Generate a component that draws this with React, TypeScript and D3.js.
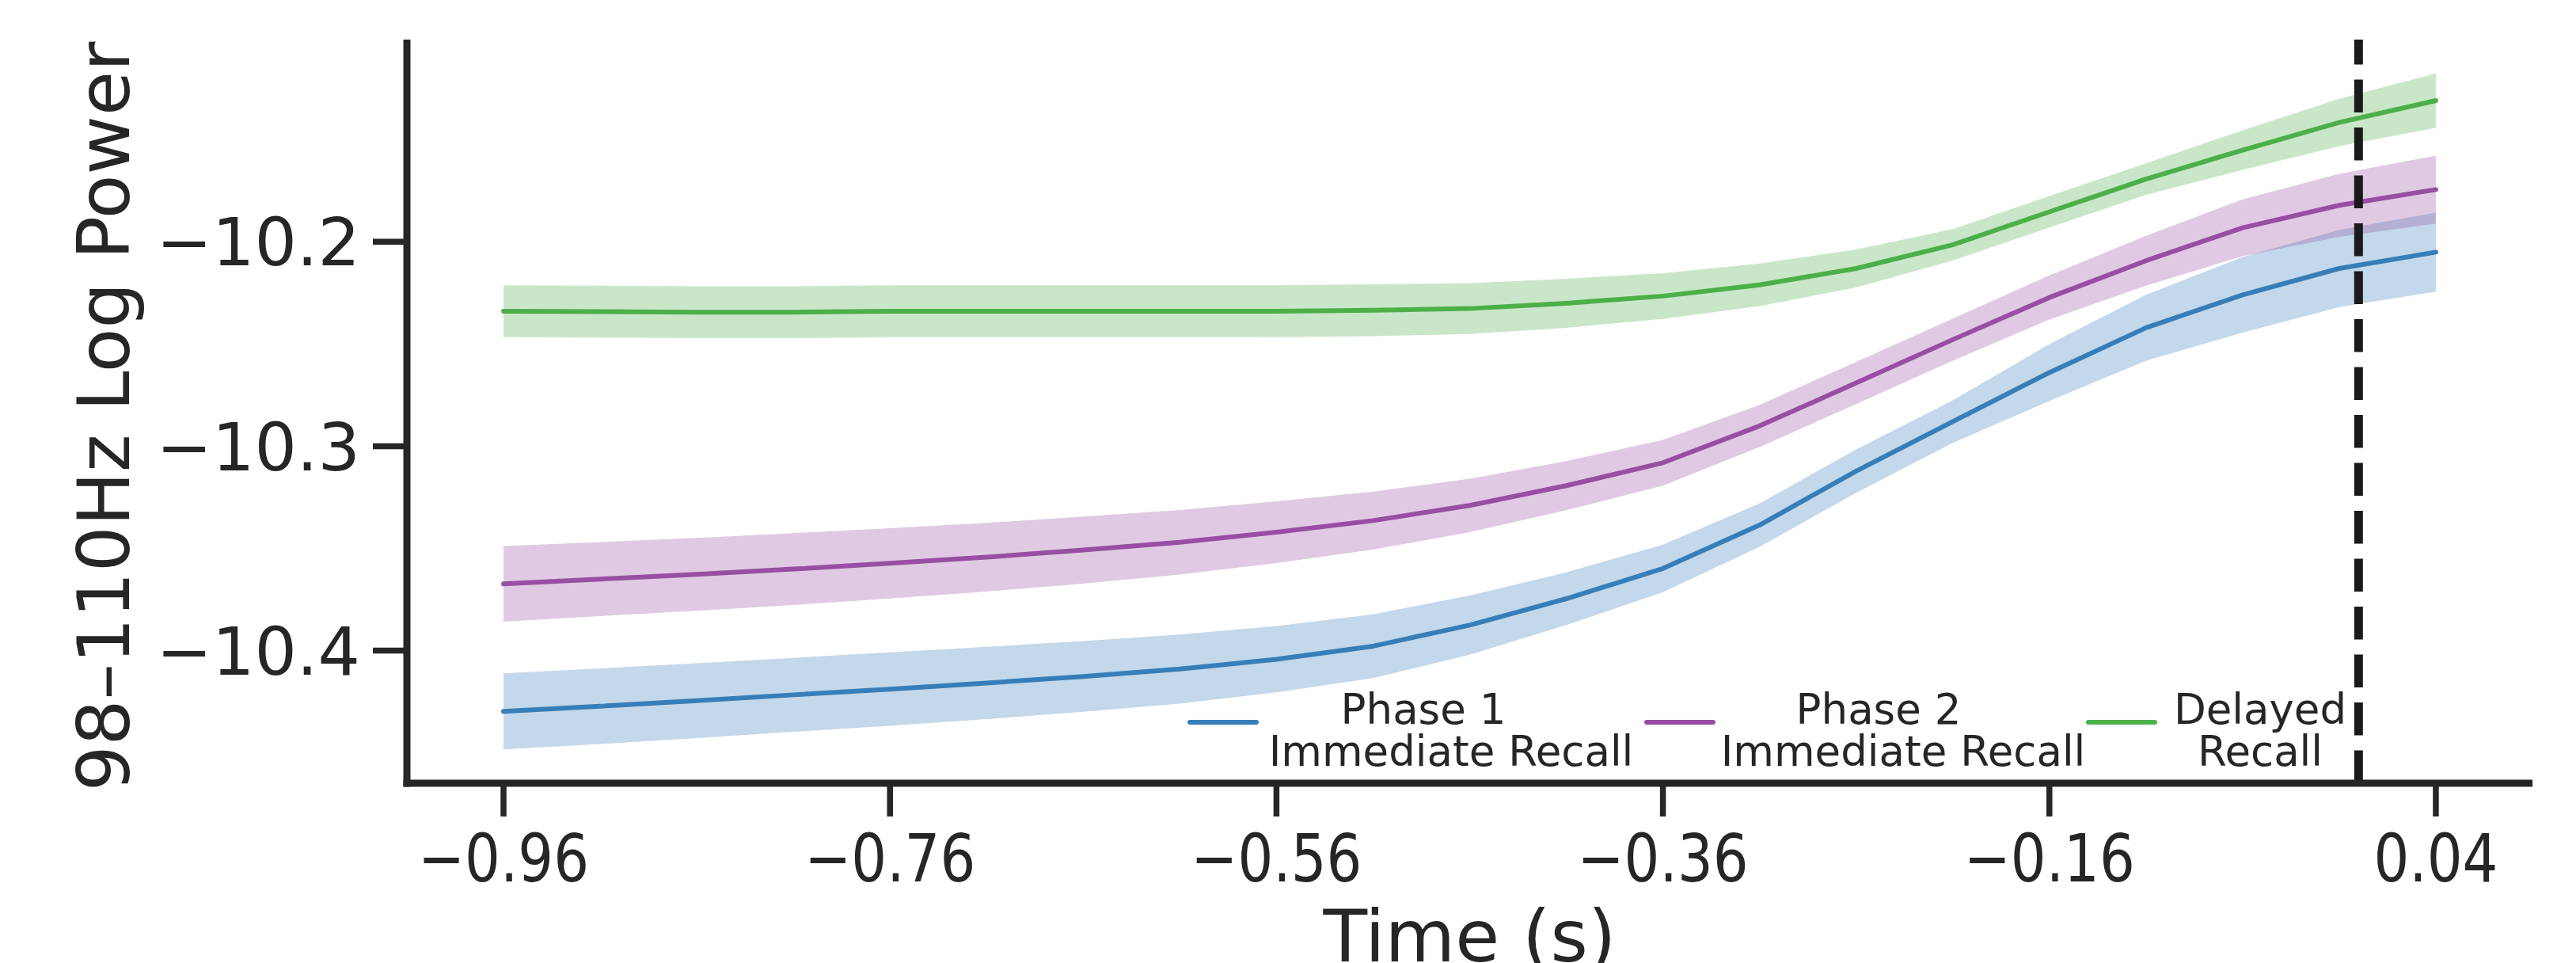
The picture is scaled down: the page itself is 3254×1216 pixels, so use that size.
import * as d3 from "d3";

// time points (s)
const times = [
  -0.96, -0.91, -0.86, -0.81, -0.76, -0.71, -0.66, -0.61, -0.56, -0.51, -0.46,
  -0.41, -0.36, -0.31, -0.26, -0.21, -0.16, -0.11, -0.06, -0.01, 0.04,
];

// Phase 1 immediate recall
const phase1Mean = [
  -10.4297, -10.4272, -10.4245, -10.4216, -10.4188, -10.4158, -10.4126, -10.409,
  -10.4042, -10.3978, -10.3875, -10.3746, -10.3598, -10.3386, -10.3122, -10.288,
  -10.264, -10.2421, -10.226, -10.2131, -10.2051,
];
const phase1Sem = [
  0.0186, 0.0185, 0.0183, 0.0181, 0.018, 0.0177, 0.0173, 0.0169, 0.0162, 0.0156,
  0.0145, 0.0129, 0.0116, 0.0106, 0.0106, 0.0104, 0.0139, 0.0161, 0.0185, 0.0189,
  0.0193,
];

// Phase 2 immediate recall
const phase2Mean = [
  -10.3673, -10.365, -10.3627, -10.3601, -10.3573, -10.3543, -10.3508, -10.347,
  -10.3421, -10.3364, -10.329, -10.3193, -10.3081, -10.2901, -10.2691, -10.2479,
  -10.2273, -10.2093, -10.1932, -10.1822, -10.1745,
];
const phase2Sem = [
  0.0185, 0.0181, 0.0178, 0.0176, 0.0172, 0.0168, 0.0164, 0.0158, 0.0151, 0.0142,
  0.0131, 0.012, 0.0112, 0.0103, 0.0103, 0.0103, 0.0108, 0.0122, 0.0139, 0.0154,
  0.0166,
];

// Delayed recall
const delayedMean = [
  -10.234, -10.2342, -10.2345, -10.2345, -10.234, -10.234, -10.234, -10.234,
  -10.234, -10.2335, -10.2327, -10.2301, -10.2266, -10.2211, -10.2131, -10.2015,
  -10.1854, -10.1694, -10.1552, -10.1417, -10.131,
];
const delayedSem = [
  0.0127, 0.0127, 0.0127, 0.0127, 0.0127, 0.0127, 0.0127, 0.0127, 0.0127, 0.0127,
  0.0124, 0.012, 0.0112, 0.0104, 0.0093, 0.0077, 0.0077, 0.0077, 0.0097, 0.0116,
  0.0133,
];

const xTicks = [-0.96, -0.76, -0.56, -0.36, -0.16, 0.04];
const yTicks = [-10.2, -10.3, -10.4];
const onsetTime = 0;

const series = [
  { mean: phase1Mean, sem: phase1Sem, color: "#377eb8", lines: ["Phase 1", "Immediate Recall"] },
  { mean: phase2Mean, sem: phase2Sem, color: "#984ea3", lines: ["Phase 2", "Immediate Recall"] },
  { mean: delayedMean, sem: delayedSem, color: "#4daf4a", lines: ["Delayed", "Recall"] },
];

const W = 3254;
const H = 1216;
const left = 514,
  right = 3199,
  top = 50,
  bottom = 989;
const ink = "#262626";
const font = "'DejaVu Sans', sans-serif";

// matplotlib-like 5% margins
function padded([lo, hi]: [number, number]): [number, number] {
  const m = (hi - lo) * 0.05;
  return [lo - m, hi + m];
}

const fmt = (v: number) => d3.format(".2f")(v).replace("-", "\u2212");
const fmtY = (v: number) => d3.format(".1f")(v).replace("-", "\u2212");

// legend layout (pixels)
const legendHandleX = [1503, 2080, 2638];
const legendCenters = [
  [1798, 1833],
  [2373, 2404],
  [2855, 2855],
];

export default function App() {
  const x = d3
    .scaleLinear()
    .domain(padded(d3.extent(times) as [number, number]))
    .range([left, right]);

  const lows = series.flatMap((s) => s.mean.map((m, i) => m - s.sem[i]));
  const highs = series.flatMap((s) => s.mean.map((m, i) => m + s.sem[i]));
  const y = d3
    .scaleLinear()
    .domain(padded([d3.min(lows)!, d3.max(highs)!]))
    .range([bottom, top]);

  return (
    <svg
      width={W}
      height={H}
      style={{ position: "absolute", left: 0, top: 0, background: "#fff" }}
      fontFamily={font}
    >
      {/* bands */}
      {series.map((s, k) => {
        const band = d3
          .area<number>()
          .x((_, i) => x(times[i]))
          .y0((m, i) => y(m - s.sem[i]))
          .y1((m, i) => y(m + s.sem[i]));
        return <path key={"b" + k} d={band(s.mean)!} fill={s.color} fillOpacity={0.3} />;
      })}
      {/* mean lines */}
      {series.map((s, k) => {
        const line = d3
          .line<number>()
          .x((_, i) => x(times[i]))
          .y((m) => y(m));
        return (
          <path
            key={"l" + k}
            d={line(s.mean)!}
            fill="none"
            stroke={s.color}
            strokeWidth={6}
            strokeLinecap="round"
            strokeLinejoin="round"
          />
        );
      })}

      {/* onset line */}
      <line
        x1={x(onsetTime)}
        x2={x(onsetTime)}
        y1={bottom}
        y2={top}
        stroke="#1a1a1a"
        strokeWidth={11}
        strokeDasharray="41.5 19"
      />

      {/* spines */}
      <line x1={left} x2={left} y1={top} y2={bottom + 4.5} stroke={ink} strokeWidth={9} />
      <line x1={left - 4.5} x2={right} y1={bottom} y2={bottom} stroke={ink} strokeWidth={9} />

      {/* y ticks */}
      {yTicks.map((t) => (
        <g key={"y" + t}>
          <line x1={left - 43} x2={left} y1={y(t)} y2={y(t)} stroke={ink} strokeWidth={7.5} />
          <text x={455} y={y(t)} dy="0.36em" textAnchor="end" fontSize={84} fill={ink}>
            {fmtY(t)}
          </text>
        </g>
      ))}

      {/* x ticks (labels are narrower in the source) */}
      {xTicks.map((t) => (
        <g key={"x" + t}>
          <line x1={x(t)} x2={x(t)} y1={bottom} y2={bottom + 42} stroke={ink} strokeWidth={7.5} />
          <text
            transform={`translate(${x(t)},1113) scale(0.84,1)`}
            textAnchor="middle"
            fontSize={84}
            fill={ink}
          >
            {fmt(t)}
          </text>
        </g>
      ))}

      {/* axis labels */}
      <text x={(left + right) / 2} y={1214} textAnchor="middle" fontSize={91} fill={ink}>
        Time (s)
      </text>
      <text
        transform={`translate(163, 526) rotate(-90)`}
        textAnchor="middle"
        fontSize={91}
        fill={ink}
      >
        98–110Hz Log Power
      </text>

      {/* legend */}
      {series.map((s, k) => (
        <g key={"lg" + k}>
          <line
            x1={legendHandleX[k]}
            x2={legendHandleX[k] + 84}
            y1={912}
            y2={912}
            stroke={s.color}
            strokeWidth={6}
            strokeLinecap="round"
          />
          {s.lines.map((txt, j) => (
            <text
              key={j}
              x={legendCenters[k][j]}
              y={914 + j * 53}
              textAnchor="middle"
              fontSize={53}
              fill={ink}
            >
              {txt}
            </text>
          ))}
        </g>
      ))}
    </svg>
  );
}
